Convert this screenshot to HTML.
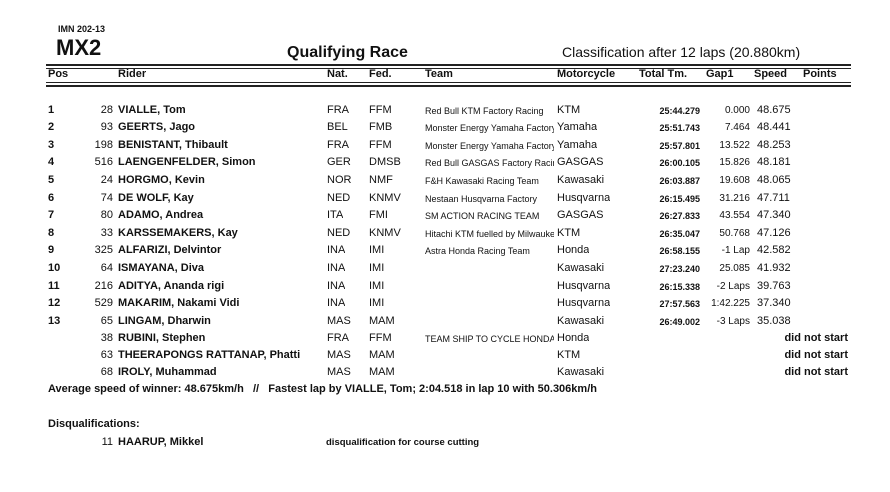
<!DOCTYPE html>
<html><head><meta charset="utf-8"><style>
body{margin:0;width:890px;height:492px;background:#fff;position:relative;font-family:"Liberation Sans",Arial,sans-serif;color:#111;overflow:hidden}
.a{position:absolute;white-space:nowrap}
.r{position:absolute;left:0;width:890px;height:14px;font-size:11px;line-height:14px}
.r span{position:absolute;white-space:nowrap;overflow:hidden;top:0}
.p{left:48px;font-weight:bold}
.n{left:80px;width:33px;text-align:right}
.nm{left:118px;width:209px;font-weight:bold}
.na{left:327px}
.fe{left:369px}
.r span.te{left:425px;width:129px;font-size:9px;top:1px}
.mo{left:557px}
.r span.tt{left:620px;width:80px;text-align:right;font-weight:bold;font-size:9px;top:1px}
.r span.g{left:700px;width:50px;text-align:right;font-size:10px;top:1px}
.sp{left:757px}
.dns{left:740px;width:108px;text-align:right;font-weight:bold}
.ln{position:absolute;left:46px;width:805px;background:#222}
</style></head><body>
<div class="a" style="left:58px;top:24px;font-size:9px;font-weight:bold">IMN 202-13</div>
<div class="a" style="left:56px;top:35px;font-size:22px;font-weight:bold">MX2</div>
<div class="a" style="left:287px;top:44px;font-size:16px;font-weight:bold">Qualifying Race</div>
<div class="a" style="left:562px;top:44px;font-size:14px">Classification after 12 laps (20.880km)</div>
<div class="ln" style="top:64px;height:2px"></div><div class="ln" style="top:68px;height:1px"></div>
<div class="r" style="top:67px;font-weight:bold;font-size:11px">
<span style="left:48px">Pos</span><span style="left:118px">Rider</span><span style="left:327px">Nat.</span><span style="left:369px">Fed.</span><span style="left:425px">Team</span><span style="left:557px">Motorcycle</span><span style="left:639px">Total Tm.</span><span style="left:706px">Gap1</span><span style="left:754px">Speed</span><span style="left:803px">Points</span></div>
<div class="ln" style="top:82px;height:1px"></div><div class="ln" style="top:85px;height:2px"></div>

<div class="r" style="top:103px"><span class="p">1</span><span class="n">28</span><span class="nm">VIALLE, Tom</span><span class="na">FRA</span><span class="fe">FFM</span><span class="te">Red Bull KTM Factory Racing</span><span class="mo">KTM</span><span class="tt">25:44.279</span><span class="g">0.000</span><span class="sp">48.675</span></div>
<div class="r" style="top:120px"><span class="p">2</span><span class="n">93</span><span class="nm">GEERTS, Jago</span><span class="na">BEL</span><span class="fe">FMB</span><span class="te">Monster Energy Yamaha Factory</span><span class="mo">Yamaha</span><span class="tt">25:51.743</span><span class="g">7.464</span><span class="sp">48.441</span></div>
<div class="r" style="top:138px"><span class="p">3</span><span class="n">198</span><span class="nm">BENISTANT, Thibault</span><span class="na">FRA</span><span class="fe">FFM</span><span class="te">Monster Energy Yamaha Factory</span><span class="mo">Yamaha</span><span class="tt">25:57.801</span><span class="g">13.522</span><span class="sp">48.253</span></div>
<div class="r" style="top:155px"><span class="p">4</span><span class="n">516</span><span class="nm">LAENGENFELDER, Simon</span><span class="na">GER</span><span class="fe">DMSB</span><span class="te">Red Bull GASGAS Factory Racing</span><span class="mo">GASGAS</span><span class="tt">26:00.105</span><span class="g">15.826</span><span class="sp">48.181</span></div>
<div class="r" style="top:173px"><span class="p">5</span><span class="n">24</span><span class="nm">HORGMO, Kevin</span><span class="na">NOR</span><span class="fe">NMF</span><span class="te">F&amp;H Kawasaki Racing Team</span><span class="mo">Kawasaki</span><span class="tt">26:03.887</span><span class="g">19.608</span><span class="sp">48.065</span></div>
<div class="r" style="top:191px"><span class="p">6</span><span class="n">74</span><span class="nm">DE WOLF, Kay</span><span class="na">NED</span><span class="fe">KNMV</span><span class="te">Nestaan Husqvarna Factory</span><span class="mo">Husqvarna</span><span class="tt">26:15.495</span><span class="g">31.216</span><span class="sp">47.711</span></div>
<div class="r" style="top:208px"><span class="p">7</span><span class="n">80</span><span class="nm">ADAMO, Andrea</span><span class="na">ITA</span><span class="fe">FMI</span><span class="te">SM ACTION RACING TEAM</span><span class="mo">GASGAS</span><span class="tt">26:27.833</span><span class="g">43.554</span><span class="sp">47.340</span></div>
<div class="r" style="top:226px"><span class="p">8</span><span class="n">33</span><span class="nm">KARSSEMAKERS, Kay</span><span class="na">NED</span><span class="fe">KNMV</span><span class="te">Hitachi KTM fuelled by Milwaukee</span><span class="mo">KTM</span><span class="tt">26:35.047</span><span class="g">50.768</span><span class="sp">47.126</span></div>
<div class="r" style="top:243px"><span class="p">9</span><span class="n">325</span><span class="nm">ALFARIZI, Delvintor</span><span class="na">INA</span><span class="fe">IMI</span><span class="te">Astra Honda Racing Team</span><span class="mo">Honda</span><span class="tt">26:58.155</span><span class="g">-1 Lap</span><span class="sp">42.582</span></div>
<div class="r" style="top:261px"><span class="p">10</span><span class="n">64</span><span class="nm">ISMAYANA, Diva</span><span class="na">INA</span><span class="fe">IMI</span><span class="mo">Kawasaki</span><span class="tt">27:23.240</span><span class="g">25.085</span><span class="sp">41.932</span></div>
<div class="r" style="top:279px"><span class="p">11</span><span class="n">216</span><span class="nm">ADITYA, Ananda rigi</span><span class="na">INA</span><span class="fe">IMI</span><span class="mo">Husqvarna</span><span class="tt">26:15.338</span><span class="g">-2 Laps</span><span class="sp">39.763</span></div>
<div class="r" style="top:296px"><span class="p">12</span><span class="n">529</span><span class="nm">MAKARIM, Nakami Vidi</span><span class="na">INA</span><span class="fe">IMI</span><span class="mo">Husqvarna</span><span class="tt">27:57.563</span><span class="g">1:42.225</span><span class="sp">37.340</span></div>
<div class="r" style="top:314px"><span class="p">13</span><span class="n">65</span><span class="nm">LINGAM, Dharwin</span><span class="na">MAS</span><span class="fe">MAM</span><span class="mo">Kawasaki</span><span class="tt">26:49.002</span><span class="g">-3 Laps</span><span class="sp">35.038</span></div>
<div class="r" style="top:331px"><span class="n">38</span><span class="nm">RUBINI, Stephen</span><span class="na">FRA</span><span class="fe">FFM</span><span class="te">TEAM SHIP TO CYCLE HONDA</span><span class="mo">Honda</span><span class="dns">did not start</span></div>
<div class="r" style="top:348px"><span class="n">63</span><span class="nm">THEERAPONGS RATTANAP, Phatti</span><span class="na">MAS</span><span class="fe">MAM</span><span class="mo">KTM</span><span class="dns">did not start</span></div>
<div class="r" style="top:365px"><span class="n">68</span><span class="nm">IROLY, Muhammad</span><span class="na">MAS</span><span class="fe">MAM</span><span class="mo">Kawasaki</span><span class="dns">did not start</span></div>
<div class="a" style="left:48px;top:383px;font-size:11px;font-weight:bold">Average speed of winner: 48.675km/h &nbsp;&nbsp;// &nbsp;&nbsp;Fastest lap by VIALLE, Tom; 2:04.518 in lap 10 with 50.306km/h</div>
<div class="a" style="left:48px;top:418px;font-size:11px;font-weight:bold">Disqualifications:</div>
<div class="r" style="top:435px"><span class="n">11</span><span class="nm">HAARUP, Mikkel</span><span style="left:326px;font-size:9.5px;font-weight:bold;top:1px">disqualification for course cutting</span></div>
</body></html>
